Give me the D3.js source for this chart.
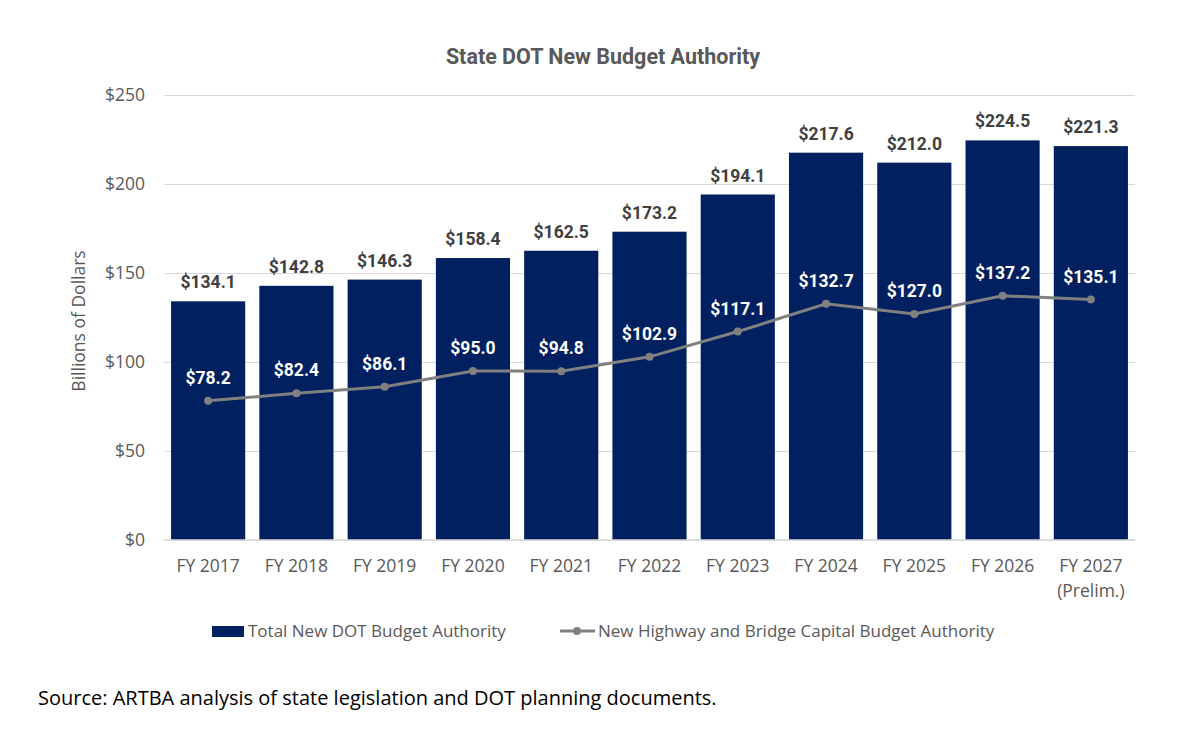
<!DOCTYPE html>
<html>
<head>
<meta charset="utf-8">
<script src="https://cdn.jsdelivr.net/npm/d3@7"></script>
<style>
  body { margin: 0; background: #fff; }
  text { font-family: "Open Sans", "Liberation Sans", sans-serif; }
</style>
</head>
<body>
<svg id="chart" width="1200" height="749"></svg>
<script>
// fiscal years on the x axis (second line used for the prelim year)
var years = ['FY 2017', 'FY 2018', 'FY 2019', 'FY 2020', 'FY 2021', 'FY 2022',
    'FY 2023', 'FY 2024', 'FY 2025', 'FY 2026', 'FY 2027'];
var yearNotes = ['', '', '', '', '', '', '', '', '', '', '(Prelim.)'];
// billions of dollars
var totalBudget = [134.1, 142.8, 146.3, 158.4, 162.5, 173.2, 194.1, 217.6, 212.0, 224.5, 221.3];
var highwayBudget = [78.2, 82.4, 86.1, 95.0, 94.8, 102.9, 117.1, 132.7, 127.0, 137.2, 135.1];
var yTicks = [0, 50, 100, 150, 200, 250];

var svg = d3.select('#chart');
var margin = {left: 164, right: 1135, top: 95, bottom: 540};

var x = d3.scaleBand()
    .domain(years)
    .range([margin.left, margin.right])
    .paddingInner(0.16)
    .paddingOuter(0.08);

var y = d3.scaleLinear()
    .domain([0, 250])
    .range([margin.bottom, margin.top]);

var fmt = function (v) { return '$' + v.toFixed(1); };
var labelFont = '"Roboto", "Liberation Sans", sans-serif';

// title
svg.append('text')
    .attr('x', 603)
    .attr('y', 64)
    .attr('text-anchor', 'middle')
    .style('font-size', '21.5px')
    .style('font-weight', 'bold')
    .style('font-family', labelFont)
    .style('fill', '#595959')
    .text('State DOT New Budget Authority');

// gridlines + y labels
var yAxis = d3.axisLeft(y)
    .tickValues(yTicks)
    .tickSize(-(margin.right - margin.left))
    .tickPadding(19)
    .tickFormat(function (d) { return '$' + d; });

var yg = svg.append('g')
    .attr('transform', 'translate(' + margin.left + ',0)')
    .call(yAxis);
yg.select('.domain').remove();
yg.selectAll('.tick line').attr('stroke', '#d9d9d9').attr('stroke-width', 1);
yg.selectAll('.tick text')
    .style('font-size', '17.5px')
    .style('fill', '#595959')
    .style('font-family', '"Open Sans", sans-serif');

// y axis title
svg.append('text')
    .attr('transform', 'translate(85,' + 321 + ') rotate(-90)')
    .attr('text-anchor', 'middle')
    .style('font-size', '17.5px')
    .style('fill', '#595959')
    .text('Billions of Dollars');

// bars
svg.selectAll('.bar')
    .data(totalBudget)
    .enter()
    .append('rect')
    .attr('class', 'bar')
    .attr('x', function (d, i) { return x(years[i]); })
    .attr('y', function (d) { return y(d); })
    .attr('width', x.bandwidth())
    .attr('height', function (d) { return y(0) - y(d); })
    .attr('fill', '#002060');

// baseline
svg.append('line')
    .attr('x1', margin.left)
    .attr('x2', margin.right)
    .attr('y1', y(0))
    .attr('y2', y(0))
    .attr('stroke', '#d9d9d9')
    .attr('stroke-width', 1.5);

// bar labels
svg.selectAll('.bar-label')
    .data(totalBudget)
    .enter()
    .append('text')
    .attr('class', 'bar-label')
    .attr('x', function (d, i) { return x(years[i]) + x.bandwidth() / 2; })
    .attr('y', function (d) { return y(d) - 13; })
    .attr('text-anchor', 'middle')
    .style('font-size', '17.5px')
    .style('font-weight', 'bold')
    .style('font-family', labelFont)
    .style('fill', '#404040')
    .text(fmt);

// highway line
var cx = function (d, i) { return x(years[i]) + x.bandwidth() / 2; };
var line = d3.line()
    .x(cx)
    .y(function (d) { return y(d); });

svg.append('path')
    .datum(highwayBudget)
    .attr('d', line)
    .attr('fill', 'none')
    .attr('stroke', '#808080')
    .attr('stroke-width', 3);

svg.selectAll('.pt')
    .data(highwayBudget)
    .enter()
    .append('circle')
    .attr('class', 'pt')
    .attr('cx', cx)
    .attr('cy', function (d) { return y(d); })
    .attr('r', 4)
    .attr('fill', '#808080');

svg.selectAll('.line-label')
    .data(highwayBudget)
    .enter()
    .append('text')
    .attr('class', 'line-label')
    .attr('x', cx)
    .attr('y', function (d) { return y(d) - 17; })
    .attr('text-anchor', 'middle')
    .style('font-size', '17.5px')
    .style('font-weight', 'bold')
    .style('font-family', labelFont)
    .style('fill', '#ffffff')
    .text(fmt);

// x labels
var xl = svg.selectAll('.x-label')
    .data(years)
    .enter()
    .append('text')
    .attr('class', 'x-label')
    .attr('x', function (d) { return x(d) + x.bandwidth() / 2; })
    .attr('y', 572)
    .attr('text-anchor', 'middle')
    .style('font-size', '17.5px')
    .style('fill', '#595959');
xl.append('tspan').text(function (d) { return d; });
xl.append('tspan')
    .attr('x', function (d) { return x(d) + x.bandwidth() / 2; })
    .attr('dy', 25)
    .text(function (d, i) { return yearNotes[i]; });

// legend
var legend = svg.append('g');
legend.append('rect')
    .attr('x', 212).attr('y', 626)
    .attr('width', 32).attr('height', 11)
    .attr('fill', '#002060');
legend.append('text')
    .attr('x', 248).attr('y', 637)
    .style('font-size', '17px')
    .style('fill', '#595959')
    .text('Total New DOT Budget Authority');
legend.append('line')
    .attr('x1', 560).attr('x2', 595)
    .attr('y1', 631).attr('y2', 631)
    .attr('stroke', '#808080')
    .attr('stroke-width', 3);
legend.append('circle')
    .attr('cx', 577).attr('cy', 631).attr('r', 4)
    .attr('fill', '#808080');
legend.append('text')
    .attr('x', 598).attr('y', 637)
    .style('font-size', '17px')
    .style('fill', '#595959')
    .text('New Highway and Bridge Capital Budget Authority');

// source note
svg.append('text')
    .attr('x', 38).attr('y', 705)
    .style('font-size', '20px')
    .style('fill', '#000')
    .text('Source: ARTBA analysis of state legislation and DOT planning documents.');
</script>
</body>
</html>
